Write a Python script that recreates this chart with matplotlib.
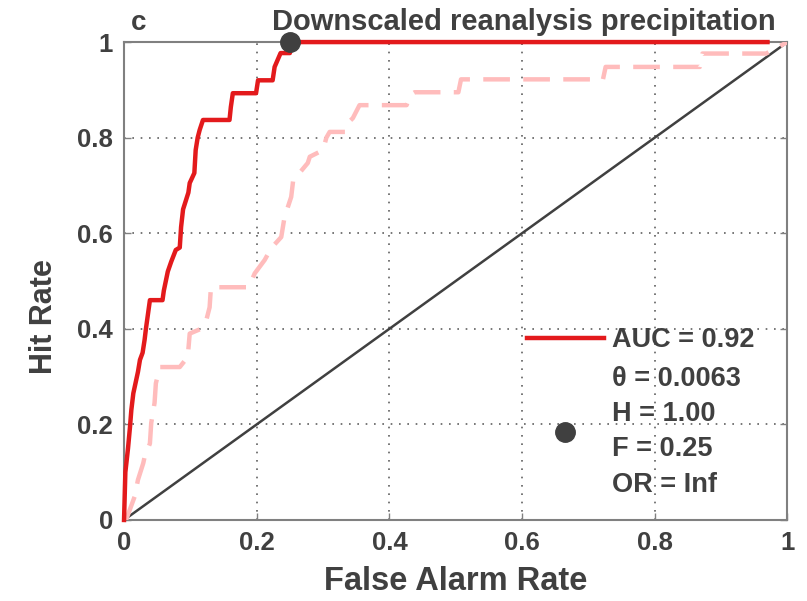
import numpy as np
import matplotlib
matplotlib.use('Agg')
import matplotlib.pyplot as plt
from matplotlib.lines import Line2D

# ROC curve, downscaled reanalysis (solid red)
far_red = [0, 0.002, 0.006, 0.009, 0.011, 0.014, 0.021, 0.024, 0.028, 0.031, 0.033, 0.039, 0.058,
           0.060, 0.066, 0.071, 0.078, 0.084, 0.086, 0.089, 0.097, 0.099, 0.106, 0.108, 0.111, 0.114,
           0.119, 0.159, 0.161, 0.164, 0.199, 0.202, 0.224, 0.227, 0.236, 0.250, 0.252, 0.970]
hit_red = [0, 0.10, 0.15, 0.195, 0.23, 0.265, 0.31, 0.335, 0.35, 0.377, 0.40, 0.46, 0.46,
           0.48, 0.52, 0.54, 0.565, 0.57, 0.613, 0.65, 0.685, 0.705, 0.726, 0.774, 0.80, 0.816,
           0.837, 0.837, 0.864, 0.893, 0.893, 0.92, 0.92, 0.948, 0.977, 0.977, 1.0, 1.0]

# second ROC curve (dashed light pink)
far_pink = [0, 0.003, 0.016, 0.021, 0.029, 0.031, 0.039, 0.041, 0.046, 0.048, 0.054, 0.084, 0.096,
            0.099, 0.116, 0.124, 0.129, 0.131, 0.188, 0.197, 0.212, 0.222, 0.237, 0.242, 0.252,
            0.255, 0.268, 0.277, 0.280, 0.300, 0.305, 0.310, 0.333, 0.337, 0.345, 0.355, 0.426,
            0.431, 0.438, 0.504, 0.508, 0.722, 0.726, 0.868, 0.872, 0.968, 1.0]
hit_pink = [0, 0.0, 0.049, 0.084, 0.119, 0.132, 0.16, 0.203, 0.245, 0.286, 0.32, 0.32, 0.341,
            0.39, 0.40, 0.418, 0.445, 0.487, 0.487, 0.516, 0.544, 0.569, 0.592, 0.634, 0.676,
            0.711, 0.732, 0.747, 0.76, 0.774, 0.80, 0.812, 0.812, 0.83, 0.841, 0.868, 0.868,
            0.889, 0.895, 0.895, 0.922, 0.922, 0.948, 0.948, 0.976, 0.976, 1.0]

# optimal point
opt_F = 0.25
opt_H = 1.00

auc_label = 'AUC = 0.92'
point_label = '\u03b8 = 0.0063\nH = 1.00\nF = 0.25\nOR = Inf'

TXT = '#404040'
plt.rcParams['font.family'] = ['Liberation Sans', 'DejaVu Sans']
plt.rcParams['font.weight'] = 'bold'

fig = plt.figure(figsize=(8.07, 6.01), dpi=100)
ax = fig.add_axes([0.1537, 0.1348, 0.822, 0.7952])

ax.plot([0, 1], [0, 1], color='#404040', linewidth=1.8, zorder=2)
ax.plot(far_pink, hit_pink, color='#ffbcbc', linewidth=3.2, dashes=(6, 3), zorder=3)
ax.plot(far_red, hit_red, color='#e31a1c', linewidth=3.2, zorder=4, clip_on=False)
ax.plot(opt_F, opt_H, 'o', color='#404040', markersize=14, zorder=5, clip_on=False)

ax.set_xlim(0, 1)
ax.set_ylim(0, 1)
ax.set_xticks(np.arange(0, 1.01, 0.2))
ax.set_yticks(np.arange(0, 1.01, 0.2))
ax.set_xticklabels(['0', '0.2', '0.4', '0.6', '0.8', '1'])
ax.set_yticklabels(['0', '0.2', '0.4', '0.6', '0.8', '1'])
ax.tick_params(direction='in', length=5, width=1, colors='#808080', labelcolor=TXT,
               labelsize=18.5, pad=8, top=False, right=True)
ax.grid(True, linestyle=(0, (1, 4)), color='#606060', linewidth=1.2)
for s in ax.spines.values():
    s.set_color('#808080')
    s.set_linewidth(1.5)

ax.set_xlabel('False Alarm Rate', fontsize=23.5, color=TXT, fontweight='bold', labelpad=8)
ax.set_ylabel('Hit Rate', fontsize=22, color=TXT, fontweight='bold')
ax.yaxis.set_label_coords(-0.098, 0.425)
ax.text(0.982, 1.012, 'Downscaled reanalysis precipitation', transform=ax.transAxes,
        fontsize=21, color=TXT, fontweight='bold', ha='right', va='bottom')
ax.text(0.01, 1.012, 'c', transform=ax.transAxes, fontsize=20, color=TXT,
        fontweight='bold', va='bottom')

handles = [Line2D([], [], color='#e31a1c', linewidth=3.2),
           Line2D([], [], marker='o', color='#404040', linestyle='none', markersize=14)]
leg = ax.legend(handles, [auc_label, point_label], loc='upper left',
                bbox_to_anchor=(0.607, 0.403), frameon=False, fontsize=19.5,
                handlelength=2.85, handletextpad=0.3, labelspacing=0.45,
                borderpad=0, borderaxespad=0)
for t in leg.get_texts():
    t.set_color(TXT)
    t.set_fontweight('bold')
    t.set_linespacing(1.47)

fig.savefig('out.png', dpi=100)
